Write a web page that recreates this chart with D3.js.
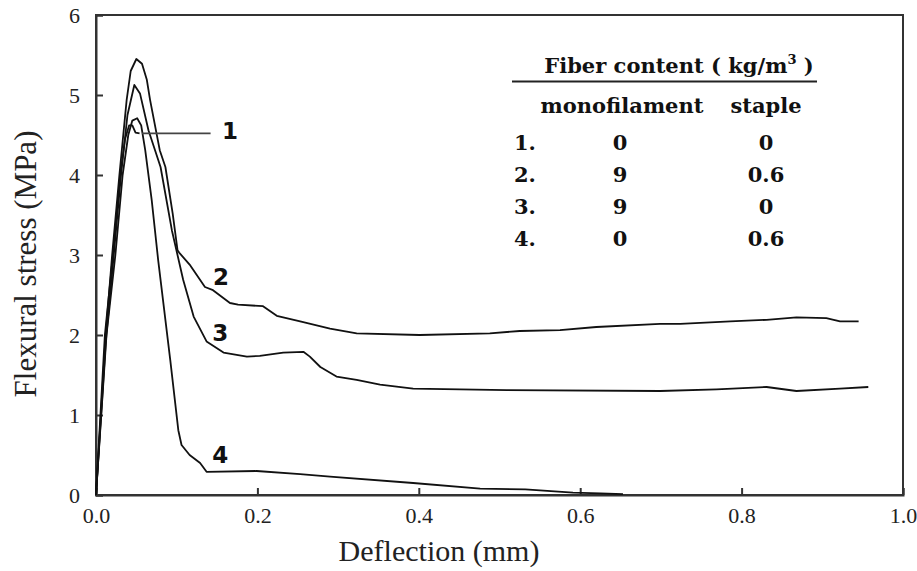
<!DOCTYPE html>
<html>
<head>
<meta charset="utf-8">
<script src="https://cdn.jsdelivr.net/npm/d3@7"></script>
<style>
  html, body { margin: 0; padding: 0; background: #fff; }
  svg { display: block; }
</style>
</head>
<body>
<svg id="chart" width="917" height="571"></svg>
<script>
// Flexural stress vs. deflection for four fiber mixes
const xTicks = [0, 0.2, 0.4, 0.6, 0.8, 1.0];
const yTicks = [0, 1, 2, 3, 4, 5, 6];

// [deflection (mm), stress (MPa)]
const curve1 = [[0,0],[0.011,2.0],[0.021,3.0],[0.03,4.0],[0.036,4.45],[0.041,4.62],[0.045,4.62],[0.049,4.53],[0.054,4.52]];
const curve2 = [[0,0],[0.012,2.0],[0.02,3.0],[0.029,4.0],[0.038,4.94],[0.043,5.3],[0.05,5.45],[0.057,5.39],[0.063,5.19],[0.067,4.94],
  [0.079,4.31],[0.086,4.1],[0.095,3.52],[0.101,3.06],[0.103,3.03],[0.116,2.88],[0.135,2.6],[0.145,2.56],[0.166,2.4],[0.176,2.38],
  [0.207,2.36],[0.224,2.24],[0.253,2.17],[0.29,2.08],[0.323,2.02],[0.401,2.0],[0.488,2.02],[0.525,2.05],[0.575,2.06],[0.62,2.1],
  [0.699,2.14],[0.724,2.14],[0.786,2.17],[0.831,2.19],[0.868,2.22],[0.905,2.21],[0.922,2.17],[0.945,2.17]];
const curve3 = [[0,0],[0.012,1.9],[0.022,3.0],[0.031,4.0],[0.039,4.75],[0.0475,5.125],[0.0545,5.02],[0.065,4.56],[0.08,4.1],
  [0.094,3.31],[0.108,2.69],[0.121,2.23],[0.137,1.92],[0.158,1.78],[0.187,1.73],[0.203,1.74],[0.232,1.78],[0.257,1.79],
  [0.265,1.73],[0.278,1.6],[0.298,1.48],[0.323,1.44],[0.352,1.38],[0.393,1.33],[0.509,1.31],[0.699,1.3],[0.769,1.32],
  [0.831,1.35],[0.868,1.3],[0.922,1.33],[0.957,1.35]];
const curve4 = [[0,0],[0.013,2.0],[0.024,3.0],[0.033,4.0],[0.04,4.5],[0.045,4.68],[0.051,4.71],[0.056,4.62],[0.061,4.31],
  [0.069,3.69],[0.077,2.94],[0.092,1.69],[0.102,0.81],[0.106,0.625],[0.116,0.5],[0.129,0.4],[0.137,0.29],[0.199,0.3],
  [0.253,0.26],[0.29,0.23],[0.393,0.15],[0.476,0.08],[0.532,0.07],[0.591,0.03],[0.625,0.02],[0.653,0.01]];

const curves = [curve1, curve2, curve3, curve4];

// curve number labels: [label, x (mm), y (MPa)]
const curveLabels = [["1", 0.166, 4.45], ["2", 0.155, 2.63], ["3", 0.154, 1.93], ["4", 0.154, 0.4]];
const leader = [[0.057, 4.52], [0.142, 4.52]];

// fiber content table
const tableTitle = "Fiber content ( kg/m";
const tableHeaders = ["monofilament", "staple"];
const tableRows = ["1.", "2.", "3.", "4."];
const monofilament = ["0", "9", "9", "0"];
const staple = ["0", "0.6", "0", "0.6"];

const svg = d3.select("#chart");
const x = d3.scaleLinear().domain([0, 1]).range([96, 903]);
const y = d3.scaleLinear().domain([0, 6]).range([495, 15]);

const serif = "'Liberation Serif', 'Times New Roman', serif";

// frame
svg.append("rect")
  .attr("x", x(0)).attr("y", y(6))
  .attr("width", x(1) - x(0)).attr("height", y(0) - y(6))
  .attr("fill", "none").attr("stroke", "#333").attr("stroke-width", 2);

// axes with inward ticks
const gx = svg.append("g").attr("transform", `translate(0,${y(0)})`)
  .call(d3.axisBottom(x).tickValues(xTicks).tickFormat(d3.format(".1f")).tickSize(-7).tickPadding(12));
const gy = svg.append("g").attr("transform", `translate(${x(0)},0)`)
  .call(d3.axisLeft(y).tickValues(yTicks).tickFormat(d3.format("d")).tickSize(-7).tickPadding(16));
[gx, gy].forEach(g => {
  g.attr("font-family", serif).attr("font-size", 22);
  g.select(".domain").attr("stroke", "#333").attr("stroke-width", 2);
  g.selectAll(".tick line").attr("stroke", "#333").attr("stroke-width", 2);
  g.selectAll(".tick text").attr("font-family", serif).attr("font-size", 22).attr("fill", "#222");
});

// axis titles
svg.append("text")
  .attr("x", 439).attr("y", 561)
  .attr("text-anchor", "middle")
  .attr("font-family", serif).attr("font-size", 30).attr("fill", "#222")
  .text("Deflection (mm)");
svg.append("text")
  .attr("transform", "translate(36,264) rotate(-90)")
  .attr("text-anchor", "middle")
  .attr("font-family", serif).attr("font-size", 31).attr("fill", "#222")
  .text("Flexural stress (MPa)");

// curves
const line = d3.line().x(d => x(d[0])).y(d => y(d[1]));
svg.append("g").selectAll("path").data(curves).join("path")
  .attr("d", line)
  .attr("fill", "none").attr("stroke", "#111").attr("stroke-width", 1.8)
  .attr("stroke-linejoin", "round");

// leader for curve 1
svg.append("path").attr("d", line(leader))
  .attr("stroke", "#444").attr("stroke-width", 1.8).attr("fill", "none");

// curve number labels
svg.append("g").selectAll("text").data(curveLabels).join("text")
  .attr("x", d => x(d[1])).attr("y", d => y(d[2]))
  .attr("text-anchor", "middle")
  .attr("font-family", "'DejaVu Sans', Verdana, sans-serif").attr("font-weight", "bold")
  .attr("font-size", 23).attr("fill", "#111")
  .text(d => d[0]);

// fiber content table
const bold = "'DejaVu Serif', serif";
const table = svg.append("g").attr("font-family", bold).attr("font-weight", "bold")
  .attr("font-size", 21).attr("fill", "#111");
const t = table.append("text").attr("x", 679).attr("y", 73).attr("text-anchor", "middle").attr("font-size", 21);
t.append("tspan").text(tableTitle);
t.append("tspan").attr("font-size", 13).attr("dy", -9).text("3");
t.append("tspan").attr("dy", 9).text(" )");
table.append("line").attr("x1", 512).attr("x2", 817).attr("y1", 81.5).attr("y2", 81.5)
  .attr("stroke", "#222").attr("stroke-width", 2);
const colX = [622, 766];
table.selectAll("text.hdr").data(tableHeaders).join("text").attr("class", "hdr")
  .attr("x", (d, i) => colX[i]).attr("y", 113).attr("text-anchor", "middle").text(d => d);
const rowY = i => 150 + 32 * i;
table.selectAll("text.row").data(tableRows).join("text").attr("class", "row")
  .attr("x", 514).attr("y", (d, i) => rowY(i)).text(d => d);
table.selectAll("text.mono").data(monofilament).join("text").attr("class", "mono")
  .attr("x", 620).attr("y", (d, i) => rowY(i)).attr("text-anchor", "middle").text(d => d);
table.selectAll("text.stap").data(staple).join("text").attr("class", "stap")
  .attr("x", 766).attr("y", (d, i) => rowY(i)).attr("text-anchor", "middle").text(d => d);
</script>
</body>
</html>
